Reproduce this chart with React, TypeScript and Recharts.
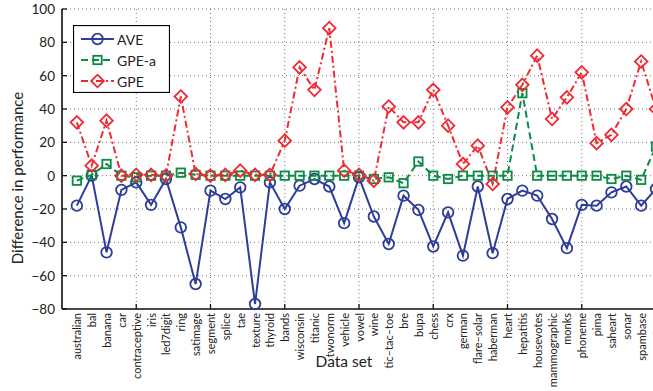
// @ts-nocheck
import React from 'react';
import { LineChart, Line, XAxis, YAxis, CartesianGrid, Legend } from 'recharts';

const FONT = 'Lato, "Liberation Sans", sans-serif';

const C = {
  ave: '#2E3D98',
  gpeA: '#0B8B45',
  gpe: '#EE2B33',
  axis: '#111111',
  grid: '#555555',
};

const CATEGORIES = [
  'australian', 'bal', 'banana', 'car', 'contraceptive', 'iris', 'led7digit', 'ring', 'satimage', 'segment',
  'splice', 'tae', 'texture', 'thyroid', 'bands', 'wisconsin', 'titanic', 'twonorm', 'vehicle', 'vowel',
  'wine', 'tic–tac–toe', 'bre', 'bupa', 'chess', 'crx', 'german', 'flare–solar', 'haberman', 'heart',
  'hepatitis', 'housevotes', 'mammographic', 'monks', 'phoneme', 'pima', 'saheart', 'sonar', 'spambase', 'waveform',
];

const AVE = [
  -18, 0, -46, -8.5, -4, -17.5, -2, -31, -65, -9,
  -14, -7, -77, -4, -20, -6, -2, -6.5, -28.5, -1,
  -24.5, -41, -12, -20.5, -42.5, -22, -48, -6.5, -46.5, -14,
  -9, -12, -26, -43.5, -17.5, -18, -10, -6.5, -18, -8,
];

const GPE_A = [
  -3, 0.5, 7, 0, -1, 0, 0, 1.8, 0.5, 0,
  0, 0, 0, 0, 0, 0, 0, 0, 0, 0,
  -2, -1, -4.5, 8.5, 0, -2, 0, 0, 0, 0,
  49.5, 0, 0, 0, 0, 0, -2, 0, -2.5, 17.5,
];

const GPE = [
  32, 6, 33, 0, 0.5, 0.5, 0, 47.5, 1, 0,
  0.5, 3, 0.5, 0.5, 21, 65, 51.5, 88.5, 3, 0.5,
  -3, 41.5, 32, 32, 51.5, 30, 7, 18, -5, 41,
  54.5, 72, 34, 47, 62, 19.5, 24.5, 40, 68.5, 40,
];

const Y_TICKS = [-80, -60, -40, -20, 0, 20, 40, 60, 80, 100];
const X_MAJOR = [5, 10, 15, 20, 25, 30, 35, 40];
const LEGEND_ORDER = ['ave', 'gpeA', 'gpe'];

const data = CATEGORIES.map((name, i) => ({
  idx: i + 1,
  name,
  ave: AVE[i],
  gpeA: GPE_A[i],
  gpe: GPE[i],
}));

const STYLE = {
  ave: { color: C.ave, dash: undefined, shape: 'circle' },
  gpeA: { color: C.gpeA, dash: '7 4', shape: 'square' },
  gpe: { color: C.gpe, dash: '7 3 2 3', shape: 'diamond' },
};

function Marker({ shape, cx, cy, color }) {
  if (cx == null || cy == null) return null;
  if (shape === 'circle') {
    return <circle cx={cx} cy={cy} r={5.3} fill="none" stroke={color} strokeWidth={1.8} />;
  }
  if (shape === 'square') {
    return <rect x={cx - 4.2} y={cy - 4.2} width={8.4} height={8.4} fill="none" stroke={color} strokeWidth={1.8} />;
  }
  const d = 6.3;
  return (
    <polygon
      points={`${cx},${cy - d} ${cx + d},${cy} ${cx},${cy + d} ${cx - d},${cy}`}
      fill="none"
      stroke={color}
      strokeWidth={1.8}
    />
  );
}

const dotFor = (key) => (p) => (
  <Marker key={`${key}-${p.index}`} shape={STYLE[key].shape} cx={p.cx} cy={p.cy} color={STYLE[key].color} />
);

function BottomTick({ x, y, payload }) {
  const v = payload.value;
  return (
    <g>
      {v % 5 === 0 ? <line x1={x} x2={x} y1={y - 4} y2={y - 9} stroke={C.axis} strokeWidth={1.3} /> : null}
      <text
        x={x}
        y={y}
        transform={`rotate(-90 ${x} ${y})`}
        textAnchor="end"
        dominantBaseline="central"
        fontSize={11}
        fontFamily={FONT}
        fill="#222"
      >
        {CATEGORIES[v - 1]}
      </text>
    </g>
  );
}

function TopTick({ x, y }) {
  return <line x1={x} x2={x} y1={y} y2={y + 5} stroke={C.axis} strokeWidth={1.3} />;
}

function LeftTick({ x, y, payload }) {
  const v = payload.value;
  return (
    <g>
      <line x1={x + 7} x2={x + 12} y1={y} y2={y} stroke={C.axis} strokeWidth={1.3} />
      <text x={x} y={y} textAnchor="end" dominantBaseline="central" fontSize={13.5} fontFamily={FONT} fill="#222">
        {v < 0 ? `\u2212${-v}` : v}
      </text>
    </g>
  );
}

function RightTick({ x, y }) {
  return <line x1={x - 5} x2={x} y1={y} y2={y} stroke={C.axis} strokeWidth={1.3} />;
}

function LegendBox({ payload }) {
  const items = [...(payload || [])].sort(
    (a, b) => LEGEND_ORDER.indexOf(a.dataKey) - LEGEND_ORDER.indexOf(b.dataKey)
  );
  return (
    <svg width={97} height={68} style={{ display: 'block' }}>
      <rect x={0.5} y={0.5} width={96} height={67} fill="#fff" stroke="#000" strokeWidth={1.2} />
      {items.map((e, i) => {
        const s = STYLE[e.dataKey];
        const cy = 14 + i * 21;
        return (
          <g key={e.dataKey}>
            <line x1={8} x2={41} y1={cy} y2={cy} stroke={s.color} strokeWidth={2} strokeDasharray={s.dash} />
            <Marker shape={s.shape} cx={24.5} cy={cy} color={s.color} />
            <text x={44} y={cy} dominantBaseline="central" fontSize={14} fontFamily={FONT} fill="#222">
              {e.value}
            </text>
          </g>
        );
      })}
    </svg>
  );
}

export default function App() {
  return (
    <div
      style={{
        position: 'fixed',
        left: 0,
        top: 0,
        width: 653,
        height: 391,
        overflow: 'hidden',
        background: '#fff',
        fontFamily: FONT,
      }}
    >
      <LineChart width={660} height={391} data={data} margin={{ top: 9, right: 4, bottom: 0, left: 0 }}>
        <CartesianGrid
          xAxisId="top"
          stroke={C.grid}
          strokeWidth={0.8}
          strokeDasharray="1 3"
        />
        <XAxis
          dataKey="idx"
          type="number"
          domain={[0, 40]}
          ticks={CATEGORIES.map((_, i) => i + 1)}
          interval={0}
          height={82}
          tickSize={0}
          tickMargin={4}
          tick={<BottomTick />}
          axisLine={{ stroke: C.axis, strokeWidth: 1.6 }}
          tickLine={false}
        />
        <XAxis
          xAxisId="top"
          dataKey="idx"
          type="number"
          orientation="top"
          domain={[0, 40]}
          ticks={X_MAJOR}
          interval={0}
          height={0}
          tickSize={0}
          tickMargin={0}
          tick={<TopTick />}
          axisLine={{ stroke: C.axis, strokeWidth: 1.6 }}
          tickLine={false}
        />
        <YAxis
          type="number"
          domain={[-80, 100]}
          ticks={Y_TICKS}
          interval={0}
          width={62}
          tickSize={0}
          tickMargin={7}
          tick={<LeftTick />}
          axisLine={{ stroke: C.axis, strokeWidth: 1.6 }}
          tickLine={false}
        />
        <YAxis
          yAxisId="right"
          orientation="right"
          type="number"
          domain={[-80, 100]}
          ticks={Y_TICKS}
          interval={0}
          width={0}
          tickSize={0}
          tickMargin={0}
          tick={<RightTick />}
          axisLine={{ stroke: C.axis, strokeWidth: 1.6 }}
          tickLine={false}
        />
        <Legend
          layout="horizontal"
          align="center"
          verticalAlign="middle"
          content={<LegendBox />}
          wrapperStyle={{ position: 'absolute', left: 73, top: 25, width: 97, height: 68 }}
        />
        <Line
          dataKey="ave"
          name="AVE"
          stroke={C.ave}
          strokeWidth={2}
          dot={dotFor('ave')}
          activeDot={false}
          isAnimationActive={false}
        />
        <Line
          dataKey="gpeA"
          name="GPE-a"
          stroke={C.gpeA}
          strokeWidth={2}
          strokeDasharray={STYLE.gpeA.dash}
          dot={dotFor('gpeA')}
          activeDot={false}
          isAnimationActive={false}
        />
        <Line
          dataKey="gpe"
          name="GPE"
          stroke={C.gpe}
          strokeWidth={2}
          strokeDasharray={STYLE.gpe.dash}
          dot={dotFor('gpe')}
          activeDot={false}
          isAnimationActive={false}
        />
      </LineChart>
      <div
        style={{
          position: 'absolute',
          left: 17,
          top: 178,
          transform: 'translate(-50%, -50%) rotate(-90deg)',
          whiteSpace: 'nowrap',
          fontSize: 15,
          color: '#222',
        }}
      >
        Difference in performance
      </div>
      <div
        style={{
          position: 'absolute',
          left: 344,
          top: 361,
          transform: 'translate(-50%, -50%)',
          whiteSpace: 'nowrap',
          fontSize: 15.5,
          color: '#222',
        }}
      >
        Data set
      </div>
    </div>
  );
}
